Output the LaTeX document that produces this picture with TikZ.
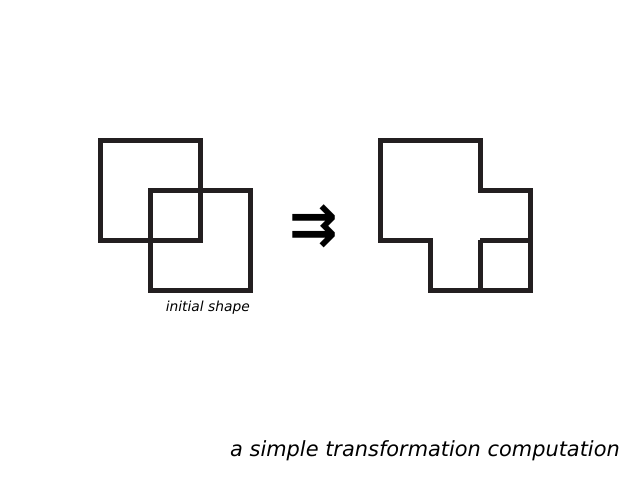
\documentclass[tikz,border=0pt]{standalone}
\usepackage{fontspec}
\setmainfont{DejaVu Sans}
\definecolor{ink}{RGB}{35,31,32}
\begin{document}
\begin{tikzpicture}[x=1pt,y=-1pt,
  shapeline/.style={draw=ink,line width=5pt,line join=miter},
  lbl/.style={inner sep=0pt,font=\itshape}]
\useasboundingbox[fill=white] (0,0) rectangle (640,480);
% initial shape: two overlapping squares
\draw[shapeline] (100,140) rectangle (200,240);
\draw[shapeline] (150,190) rectangle (250,290);
\node[lbl,anchor=base east,font=\fontsize{13.8}{16}\selectfont\itshape] (init) at (250,311) {initial shape};
% arrow
\node[inner sep=0pt,text=black,font=\fontsize{58}{64}\selectfont\bfseries] (arr) at (314,226) {⇉};
% result shape
\draw[shapeline] (380,140) -- (480,140) -- (480,190) -- (530,190) -- (530,290) -- (430,290) -- (430,240) -- (380,240) -- cycle;
\draw[shapeline] (480,240) -- (530,240);
\draw[shapeline] (480,240) -- (480,290);
% caption
\node[lbl,anchor=base east,font=\fontsize{20.9}{24}\selectfont\itshape] (cap) at (620,456) {a simple transformation computation};
\end{tikzpicture}
\end{document}
